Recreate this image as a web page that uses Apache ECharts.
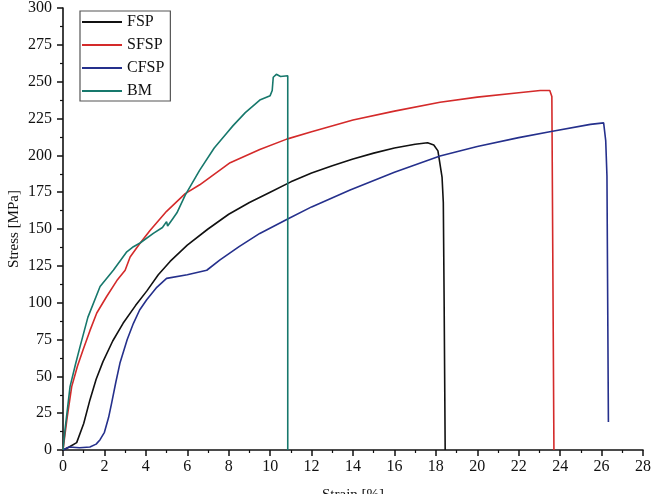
<!DOCTYPE html>
<html>
<head>
<meta charset="utf-8">
<script src="https://cdn.jsdelivr.net/npm/echarts@6/dist/echarts.min.js"></script>
<style>
  html, body { margin: 0; padding: 0; background: #fff; }
  #chart { width: 653px; height: 494px; }
</style>
</head>
<body>
<div id="chart"></div>
<script>
// strain [%], stress [MPa]
var fspData = [
  [0, 0], [0.3, 2], [0.66, 5], [1.0, 18], [1.3, 34], [1.6, 48], [1.93, 60],
  [2.4, 74], [2.9, 86], [3.5, 98], [4.05, 108], [4.6, 119], [5.17, 128],
  [6, 139], [7, 150], [8, 160], [9, 168], [10, 175], [11, 182], [12, 188],
  [13, 193], [14, 197.5], [15, 201.5], [16, 205], [17, 207.5], [17.6, 208.5],
  [17.9, 207], [18.1, 203], [18.3, 185], [18.36, 168], [18.4, 100], [18.45, 0]
];
var sfspData = [
  [0, 0], [0.2, 22], [0.42, 43], [0.7, 57], [0.97, 68], [1.3, 81], [1.63, 93],
  [2.1, 104], [2.6, 115], [3.0, 122], [3.24, 131], [3.7, 140], [4.2, 149],
  [5, 162], [5.9, 174], [6.6, 180], [8.07, 195], [9.5, 204], [10.8, 211],
  [12, 216], [14, 224], [16, 230], [18.2, 236], [20, 239.5], [22, 242.5],
  [23.04, 244], [23.5, 244], [23.6, 240], [23.65, 120], [23.7, 0]
];
var cfspData = [
  [0, 0], [0.3, 2], [0.8, 1.5], [1.3, 2], [1.6, 4], [1.79, 7], [2.0, 12],
  [2.2, 22], [2.35, 32], [2.55, 46], [2.75, 59], [3.1, 75], [3.4, 86],
  [3.7, 95], [4.04, 102], [4.5, 110], [5.0, 116.5], [6, 119], [6.94, 122],
  [7.58, 129], [8.5, 138], [9.5, 147], [10.87, 157], [12, 165], [13.86, 176.5],
  [16, 188.5], [18.2, 199.5], [20, 206], [22, 212], [23.5, 216], [25.46, 221],
  [26.1, 222], [26.2, 210], [26.26, 186], [26.33, 19]
];
var bmData = [
  [0, 0], [0.1, 14], [0.34, 43], [0.6, 58], [0.82, 70], [1.2, 90], [1.79, 111],
  [2.43, 122], [3.08, 134.5], [3.4, 138], [3.72, 140.5], [4.36, 147], [4.8, 151],
  [5.0, 155], [5.05, 152], [5.3, 157], [5.5, 161], [5.9, 173], [6.6, 190],
  [7.3, 205], [7.9, 215], [8.2, 220], [8.8, 229], [9.5, 237.5], [10.0, 240.5],
  [10.1, 244], [10.15, 253], [10.3, 255], [10.5, 253.5], [10.85, 254], [10.85, 0]
];
var seriesNames = ["FSP", "SFSP", "CFSP", "BM"];
var seriesColors = ["#111111", "#d42a2a", "#25308c", "#17786c"];

var font = "Liberation Serif, Times New Roman, serif";
var chart = echarts.init(document.getElementById("chart"));

function makeSeries(i, data) {
  return {
    name: seriesNames[i],
    type: "line",
    data: data,
    symbol: "none",
    lineStyle: { color: seriesColors[i], width: 1.6 },
    itemStyle: { color: seriesColors[i] },
    animation: false
  };
}

var option = {
  backgroundColor: "#fff",
  grid: { left: 63, right: 10, top: 8, bottom: 44, containLabel: false, outerBoundsMode: "none" },
  legend: {
    orient: "vertical",
    left: 80,
    top: 11,
    data: seriesNames,
    icon: "path://M0,0 L40,0 L40,2 L0,2 Z",
    itemWidth: 40,
    itemHeight: 14,
    itemGap: 7,
    padding: [3, 6, 2, 2],
    borderColor: "#555",
    borderWidth: 1.2,
    textStyle: { fontFamily: font, fontSize: 16, color: "#111" }
  },
  xAxis: {
    type: "value",
    min: 0,
    max: 28,
    interval: 2,
    name: "Strain [%]",
    nameLocation: "middle",
    nameGap: 38,
    nameTextStyle: { fontFamily: font, fontSize: 15, color: "#111" },
    axisLine: { show: true, onZero: false, lineStyle: { color: "#111", width: 1.6 } },
    axisTick: { show: true, length: 6, lineStyle: { color: "#111", width: 1.5 } },
    minorTick: { show: true, splitNumber: 2, length: 3, lineStyle: { color: "#111", width: 1.2 } },
    splitLine: { show: false },
    axisLabel: { fontFamily: font, fontSize: 16, color: "#111", margin: 9 }
  },
  yAxis: {
    type: "value",
    min: 0,
    max: 300,
    interval: 25,
    name: "Stress [MPa]",
    nameLocation: "middle",
    nameGap: 41,
    nameMoveOverlap: false,
    nameTextStyle: { fontFamily: font, fontSize: 15, color: "#111" },
    axisLine: { show: true, onZero: false, lineStyle: { color: "#111", width: 1.6 } },
    axisTick: { show: true, length: 6, lineStyle: { color: "#111", width: 1.5 } },
    minorTick: { show: true, splitNumber: 2, length: 3, lineStyle: { color: "#111", width: 1.2 } },
    splitLine: { show: false },
    axisLabel: { fontFamily: font, fontSize: 16, color: "#111", margin: 11 }
  },
  series: [
    makeSeries(0, fspData),
    makeSeries(1, sfspData),
    makeSeries(2, cfspData),
    makeSeries(3, bmData)
  ]
};

chart.setOption(option);
</script>
</body>
</html>
